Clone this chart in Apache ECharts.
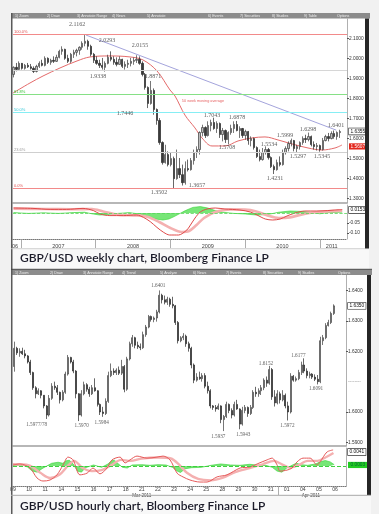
<!DOCTYPE html>
<html><head><meta charset="utf-8">
<script src="https://cdn.jsdelivr.net/npm/echarts@6/dist/echarts.min.js"></script>
<style>html,body{margin:0;padding:0;background:#f1f1f1;}#c{width:379px;height:514px;}</style>
</head><body><div id="c"></div>
<script>
// ================= WEEKLY CHART DATA =================
const weeklyStart = 2006.9;            // decimal year of first (bi-weekly) bar
const weeklyStepYears = 14 / 365.25;
// [open, close, low, high]
const weeklyOHLC = [
[1.920,1.955,1.905,1.960],[1.955,1.945,1.935,1.977],[1.945,1.975,1.940,1.985],[1.975,1.950,1.944,1.977],
[1.950,1.965,1.944,1.972],[1.965,1.958,1.952,1.977],[1.958,1.950,1.944,1.972],[1.950,1.935,1.927,1.960],
[1.935,1.960,1.930,1.968],[1.960,1.975,1.952,1.985],[1.975,1.965,1.960,1.993],[1.965,2.000,1.960,2.010],
[2.000,1.980,1.972,2.005],[1.980,1.990,1.968,1.998],[1.990,1.985,1.977,2.010],[1.985,2.005,1.982,2.018],
[2.005,2.035,2.000,2.043],[2.035,2.045,2.018,2.060],[2.045,2.000,1.993,2.048],[2.000,1.985,1.977,2.018],
[1.985,2.020,1.977,2.027],[2.020,2.030,2.002,2.043],[2.030,2.040,2.010,2.048],[2.040,2.055,2.018,2.060],
[2.055,2.075,2.043,2.085],[2.075,2.085,2.060,2.1162],[2.085,2.060,2.043,2.093],[2.060,2.020,2.010,2.068],
[2.020,1.990,1.977,2.027],[1.990,1.975,1.968,2.010],[1.975,1.965,1.952,1.993],[1.965,1.955,1.944,2.002],
[1.955,1.975,1.9338,1.985],[1.975,2.005,1.970,2.018],[2.005,1.995,1.985,2.035],[1.995,1.980,1.968,2.010],
[1.980,1.970,1.960,2.005],[1.970,1.995,1.968,2.010],[1.995,1.960,1.952,1.998],[1.960,1.970,1.944,1.985],
[1.970,1.975,1.952,1.993],[1.975,1.985,1.960,2.002],[1.985,1.990,1.968,2.005],[1.990,1.995,1.977,2.0155],
[1.995,1.975,1.968,2.010],[1.975,1.920,1.910,1.985],[1.920,1.855,1.844,1.927],[1.855,1.775,1.752,1.860],
[1.775,1.840,1.769,1.8871],[1.840,1.745,1.719,1.850],[1.745,1.690,1.669,1.750],[1.690,1.580,1.569,1.702],
[1.580,1.480,1.470,1.586],[1.480,1.520,1.475,1.569],[1.520,1.470,1.461,1.536],[1.470,1.500,1.461,1.528],
[1.500,1.400,1.3502,1.510],[1.400,1.450,1.395,1.545],[1.450,1.420,1.403,1.503],[1.420,1.380,1.3657,1.470],
[1.380,1.450,1.370,1.486],[1.450,1.445,1.436,1.495],[1.445,1.490,1.440,1.503],[1.490,1.530,1.470,1.545],
[1.530,1.545,1.503,1.561],[1.545,1.630,1.520,1.636],[1.630,1.655,1.611,1.669],[1.655,1.615,1.603,1.661],
[1.615,1.665,1.610,1.686],[1.665,1.680,1.636,1.694],[1.680,1.650,1.644,1.7043],[1.650,1.675,1.628,1.686],
[1.675,1.620,1.603,1.680],[1.620,1.640,1.586,1.653],[1.640,1.595,1.578,1.645],[1.595,1.630,1.5708,1.636],
[1.630,1.650,1.619,1.669],[1.650,1.670,1.628,1.686],[1.670,1.640,1.636,1.6878],[1.640,1.650,1.603,1.661],
[1.650,1.615,1.603,1.653],[1.615,1.635,1.594,1.644],[1.635,1.590,1.569,1.638],[1.590,1.600,1.561,1.611],
[1.600,1.555,1.545,1.605],[1.555,1.510,1.503,1.561],[1.510,1.495,1.486,1.545],[1.495,1.530,1.490,1.553],
[1.530,1.545,1.520,1.561],[1.545,1.505,1.495,1.553],[1.505,1.460,1.453,1.511],[1.460,1.445,1.4231,1.470],
[1.445,1.480,1.440,1.495],[1.480,1.470,1.461,1.511],[1.470,1.530,1.465,1.545],[1.530,1.550,1.520,1.561],
[1.550,1.575,1.536,1.586],[1.575,1.590,1.561,1.5999],[1.590,1.550,1.536,1.593],[1.550,1.560,1.5297,1.569],
[1.560,1.580,1.545,1.586],[1.580,1.600,1.569,1.611],[1.600,1.595,1.578,1.619],[1.595,1.610,1.586,1.6298],
[1.610,1.570,1.561,1.615],[1.570,1.560,1.545,1.586],[1.560,1.565,1.540,1.578],[1.565,1.545,1.5345,1.570],
[1.545,1.590,1.540,1.603],[1.590,1.610,1.586,1.619],[1.610,1.600,1.586,1.628],[1.600,1.625,1.596,1.636],
[1.625,1.610,1.599,1.6401],[1.610,1.630,1.594,1.636],[1.630,1.635,1.603,1.644]
];
const weeklyMA50 = [[2006.893,1.827],[2007.120,1.877],[2007.295,1.912],[2007.522,1.952],[2007.750,1.987],
[2007.924,2.007],[2008.191,2.012],[2008.459,2.007],[2008.633,1.992],[2008.821,1.937],[2008.995,1.842],
[2009.062,1.812],[2009.195,1.717],[2009.329,1.653],[2009.423,1.603],[2009.557,1.563],[2009.731,1.563],
[2009.905,1.588],[2010.092,1.603],[2010.266,1.608],[2010.440,1.593],[2010.628,1.573],[2010.842,1.553],
[2011.029,1.543],[2011.203,1.553],[2011.297,1.568]];
const weeklyTrend = [[2007.87,2.1162],[2011.22,1.642]];
const fibLevels = [2.1162,1.9354,1.8236,1.7332,1.6428,1.5310,1.3502];
const fibNames  = ['100.0%','','61.8%','50.0%','38.2%','23.6%','0.0%'];
const weeklyPriceTicks = [2.1,2.0,1.9,1.8,1.7,1.6,1.5,1.4,1.3];
const weeklyLastPrice = 1.6355;
const weeklyMATag = 1.5607;
const weeklyYearStarts = [2007,2008,2009,2010,2011];
const weeklyYearLabelPos = [2006.92,2007.5,2008.5,2009.5,2010.5,2011.16];
const weeklyYearLabels = ['06','2007','2008','2009','2010','2011'];
const weeklyNotes = [
[2007.75,2.171,'2.1162'],[2008.151,2.087,'2.0293'],[2008.593,2.062,'2.0155'],[2008.031,1.912,'1.9338'],
[2008.767,1.912,'1.8871'],[2008.392,1.727,'1.7446'],[2008.847,1.333,'1.3502'],[2009.356,1.368,'1.3657'],
[2009.557,1.717,'1.7043'],[2009.892,1.707,'1.6878'],[2009.758,1.558,'1.5708'],[2010.320,1.573,'1.5534'],
[2010.400,1.403,'1.4231'],[2010.534,1.618,'1.5999'],[2010.708,1.513,'1.5297'],[2010.842,1.648,'1.6298'],
[2011.029,1.513,'1.5345'],[2011.217,1.663,'1.6401']];
const weeklyMANote = [2009.436,1.787,'50 week moving average'];
const weeklyMACD = [[2006.90,0.025],[2007.16,0.023],[2007.39,0.018],[2007.61,0.018],[2007.83,0.023],[2007.97,0.012],
[2008.06,-0.005],[2008.19,-0.013],[2008.37,-0.013],[2008.55,-0.010],[2008.64,-0.022],[2008.73,-0.043],[2008.82,-0.072],
[2008.91,-0.097],[2008.99,-0.110],[2009.11,-0.110],[2009.22,-0.085],[2009.26,-0.065],[2009.33,-0.025],[2009.40,0.005],
[2009.49,0.020],[2009.60,0.025],[2009.73,0.020],[2009.93,0.015],[2010.07,0.005],[2010.16,-0.010],[2010.27,-0.030],
[2010.37,-0.035],[2010.47,-0.030],[2010.56,-0.015],[2010.67,0.000],[2010.80,0.010],[2010.96,0.010],[2011.10,0.012],
[2011.20,0.015],[2011.30,0.017]];
const weeklySignal = [[2006.90,0.022],[2007.30,0.020],[2007.70,0.019],[2007.95,0.020],[2008.10,0.008],[2008.30,-0.008],
[2008.55,-0.012],[2008.70,-0.020],[2008.85,-0.045],[2009.00,-0.075],[2009.15,-0.095],[2009.25,-0.090],[2009.35,-0.060],
[2009.45,-0.025],[2009.60,0.005],[2009.80,0.018],[2010.00,0.017],[2010.15,0.008],[2010.30,-0.012],[2010.45,-0.025],
[2010.60,-0.022],[2010.75,-0.008],[2010.95,0.004],[2011.30,0.012]];
const weeklyHist = [[2006.90,0.002],[2007.10,-0.002],[2007.30,0.001],[2007.50,-0.002],[2007.70,0.002],[2007.85,0.004],
[2007.95,-0.004],[2008.05,-0.010],[2008.15,-0.008],[2008.30,-0.002],[2008.45,0.002],[2008.60,-0.006],[2008.70,-0.018],
[2008.80,-0.030],[2008.90,-0.035],[2008.98,-0.030],[2009.05,-0.018],[2009.12,-0.004],[2009.20,0.012],[2009.30,0.028],
[2009.40,0.032],[2009.50,0.025],[2009.60,0.012],[2009.70,0.004],[2009.85,-0.002],[2010.00,-0.005],[2010.15,-0.010],
[2010.30,-0.008],[2010.45,0.004],[2010.60,0.010],[2010.75,0.008],[2010.90,0.003],[2011.00,-0.004],[2011.10,0.002],
[2011.20,0.006],[2011.30,0.004]];
const weeklyIndTicks = [-0.05,-0.10];
const weeklyIndTagWhite = 0.0153;
const weeklyIndTagGreen = -0.0049;

// ================= HOURLY CHART DATA =================
const hourlyStart = 0.5 + 1/12;   // in trading days from 9 Mar 2011 00:00
const hourlyStep = 1/6;          // 4-hour bars
const hourlyOHLC = [
[1.6150,1.6210,1.6133,1.6232],[1.6210,1.6195,1.6188,1.6215],[1.6195,1.6200,1.6182,1.6210],[1.6200,1.6192,1.6188,1.6212],
[1.6192,1.6185,1.6177,1.6205],[1.6185,1.6165,1.6160,1.6188],[1.6165,1.6130,1.6122,1.6172],[1.6130,1.6080,1.6073,1.6133],
[1.6080,1.6060,1.6045,1.6085],[1.6060,1.6070,1.6056,1.6078],[1.6070,1.6055,1.6045,1.6072],[1.6055,1.6020,1.6012,1.6056],
[1.6020,1.5990,1.5977,1.6023],[1.5990,1.6045,1.5985,1.6056],[1.6045,1.6085,1.6040,1.6095],[1.6085,1.6080,1.6073,1.6100],
[1.6080,1.6065,1.6056,1.6089],[1.6065,1.6040,1.6028,1.6067],[1.6040,1.6065,1.6035,1.6072],[1.6065,1.6125,1.6060,1.6133],
[1.6125,1.6180,1.6120,1.6188],[1.6180,1.6165,1.6160,1.6182],[1.6165,1.6135,1.6128,1.6172],[1.6135,1.6060,1.6045,1.6138],
[1.6060,1.5990,1.5970,1.6062],[1.5990,1.6060,1.5985,1.6072],[1.6060,1.6090,1.6055,1.6100],[1.6090,1.6075,1.6067,1.6095],
[1.6075,1.6060,1.6050,1.6083],[1.6060,1.6080,1.6056,1.6089],[1.6080,1.6070,1.6067,1.6111],[1.6070,1.6025,1.6018,1.6072],
[1.6025,1.6000,1.5990,1.6028],[1.6000,1.5995,1.5984,1.6017],[1.5995,1.6035,1.5990,1.6045],[1.6035,1.6120,1.6030,1.6133],
[1.6120,1.6135,1.6115,1.6160],[1.6135,1.6130,1.6122,1.6144],[1.6130,1.6138,1.6122,1.6144],[1.6138,1.6128,1.6122,1.6150],
[1.6128,1.6150,1.6122,1.6172],[1.6150,1.6075,1.6065,1.6155],[1.6075,1.6175,1.6070,1.6182],[1.6175,1.6225,1.6170,1.6232],
[1.6225,1.6245,1.6215,1.6254],[1.6245,1.6220,1.6210,1.6248],[1.6220,1.6215,1.6208,1.6232],[1.6215,1.6212,1.6204,1.6226],
[1.6212,1.6255,1.6208,1.6265],[1.6255,1.6280,1.6248,1.6287],[1.6280,1.6315,1.6276,1.6320],[1.6315,1.6305,1.6298,1.6318],
[1.6305,1.6310,1.6296,1.6315],[1.6310,1.6330,1.6298,1.6337],[1.6330,1.6385,1.6325,1.6401],[1.6385,1.6370,1.6358,1.6390],
[1.6370,1.6362,1.6355,1.6384],[1.6362,1.6372,1.6353,1.6380],[1.6372,1.6355,1.6347,1.6377],[1.6355,1.6350,1.6342,1.6380],
[1.6350,1.6295,1.6287,1.6353],[1.6295,1.6235,1.6226,1.6300],[1.6235,1.6245,1.6230,1.6250],[1.6245,1.6250,1.6237,1.6260],
[1.6250,1.6225,1.6215,1.6255],[1.6225,1.6210,1.6199,1.6232],[1.6210,1.6155,1.6144,1.6215],[1.6155,1.6105,1.6095,1.6160],
[1.6105,1.6115,1.6100,1.6128],[1.6115,1.6110,1.6106,1.6133],[1.6110,1.6120,1.6100,1.6128],[1.6120,1.6085,1.6078,1.6128],
[1.6085,1.6070,1.6061,1.6100],[1.6070,1.6020,1.6012,1.6075],[1.6020,1.6015,1.6007,1.6023],[1.6015,1.6010,1.6001,1.6023],
[1.6010,1.6020,1.6007,1.6028],[1.6020,1.5975,1.5963,1.6022],[1.5975,1.5985,1.5937,1.5990],[1.5985,1.6025,1.5980,1.6034],
[1.6025,1.6005,1.5996,1.6028],[1.6005,1.5990,1.5979,1.6012],[1.5990,1.6025,1.5985,1.6034],[1.6025,1.6010,1.6007,1.6040],
[1.6010,1.5960,1.5943,1.6012],[1.5960,1.6005,1.5955,1.6017],[1.6005,1.6015,1.5996,1.6023],[1.6015,1.5995,1.5984,1.6018],
[1.5995,1.6015,1.5990,1.6023],[1.6015,1.6065,1.6010,1.6072],[1.6065,1.6060,1.6050,1.6083],[1.6060,1.6070,1.6050,1.6078],
[1.6070,1.6080,1.6056,1.6089],[1.6080,1.6105,1.6072,1.6111],[1.6105,1.6095,1.6083,1.6117],[1.6095,1.6140,1.6090,1.6152],
[1.6140,1.6050,1.6040,1.6145],[1.6050,1.6030,1.6018,1.6072],[1.6030,1.6060,1.6025,1.6072],[1.6060,1.6040,1.6028,1.6067],
[1.6040,1.6055,1.6035,1.6072],[1.6055,1.6020,1.6012,1.6061],[1.6020,1.6000,1.5972,1.6034],[1.6000,1.6118,1.5995,1.6128],
[1.6118,1.6105,1.6100,1.6122],[1.6105,1.6110,1.6100,1.6117],[1.6110,1.6130,1.6105,1.6139],[1.6130,1.6155,1.6122,1.6166],
[1.6155,1.6135,1.6128,1.6177],[1.6135,1.6120,1.6111,1.6144],[1.6120,1.6125,1.6111,1.6133],[1.6125,1.6115,1.6109,1.6128],
[1.6115,1.6108,1.6102,1.6124],[1.6108,1.6100,1.6091,1.6122],[1.6100,1.6235,1.6095,1.6248],[1.6235,1.6245,1.6221,1.6254],
[1.6245,1.6285,1.6240,1.6293],[1.6285,1.6295,1.6282,1.6304],[1.6295,1.6325,1.6290,1.6331],[1.6325,1.6350,1.6320,1.6355]
];
const hourlyDays = ['09','10','11','14','15','16','17','18','21','22','23','24','25','28','29','30','31','01','04','05','06'];
const hourlyMonthStart = [17];
const hourlyMonthPos = [8.5,19.0];
const hourlyMonthLabels = ['Mar 2011','Apr 2011'];
const hourlyPriceTicks = [1.64,1.63,1.62,1.60,1.59];
const hourlyDashTick = 1.61;
const hourlyLastPrice = 1.635;
const hourlyNotes = [[9.525,1.6416,'1.6401'],[1.97,1.5957,'1.5977/78'],[4.77,1.5955,'1.5970'],[6.01,1.5966,'1.5984'],
[13.25,1.5918,'1.5937'],[14.8,1.5924,'1.5943'],[16.21,1.6160,'1.6152'],[17.54,1.5955,'1.5972'],[18.22,1.6186,'1.6177'],
[19.32,1.6076,'1.6091']];
const hourlyMACD = [[0.5,0.0003],[0.93,0.0006],[1.56,-0.0006],[1.99,-0.0035],[2.36,-0.0044],[2.80,-0.0041],[3.23,-0.0026],
[3.61,0.0003],[3.92,0.0026],[4.23,0.0018],[4.66,-0.0026],[5.10,-0.0021],[5.47,-0.0006],[5.90,-0.0023],[6.34,-0.0006],
[6.65,0.0018],[7.15,0.0026],[7.46,0.0009],[7.77,0.0018],[8.20,0.0029],[8.82,0.0023],[9.44,0.0026],[9.82,0.0029],
[10.25,0.0018],[10.69,-0.0021],[11.06,-0.0032],[11.49,-0.0041],[12.11,-0.0047],[12.55,-0.0047],[13.17,-0.0032],
[13.79,-0.0026],[14.60,-0.0006],[15.22,-0.0003],[15.66,0.0006],[16.28,0.0018],[16.59,0.0023],[16.90,0.0003],
[17.08,-0.0015],[17.52,-0.0012],[17.83,-0.0006],[18.14,0.0012],[18.51,0.0023],[18.95,0.0023],[19.38,0.0003],
[19.57,0.0012],[20.00,0.0041],[20.38,0.0047]];
const hourlySignal = [[0.5,0.0005],[1.5,0.0002],[2.2,-0.0020],[2.8,-0.0035],[3.4,-0.0025],[3.9,0.0000],[4.3,0.0015],
[4.8,-0.0005],[5.4,-0.0015],[6.0,-0.0012],[6.6,0.0002],[7.2,0.0018],[7.8,0.0015],[8.5,0.0022],[9.5,0.0025],[10.3,0.0022],
[10.8,0.0005],[11.3,-0.0020],[12.0,-0.0038],[12.8,-0.0042],[13.5,-0.0035],[14.3,-0.0018],[15.2,-0.0006],[16.0,0.0005],
[16.7,0.0015],[17.2,0.0005],[17.7,-0.0005],[18.2,0.0002],[18.8,0.0015],[19.4,0.0015],[19.9,0.0025],[20.4,0.0038]];
const hourlyHist = [[0.5,0.0005],[1.0,0.0004],[1.4,-0.0003],[1.7,-0.0015],[2.0,-0.0018],[2.3,-0.0008],[2.6,0],[2.9,0.0008],
[3.3,0.0011],[3.6,0.0008],[3.8,0.0015],[4.0,0.0017],[4.25,0.0005],[4.5,-0.0015],[4.75,-0.0018],[5.0,-0.0005],[5.5,0.0003],
[6.0,-0.0004],[6.4,0.0006],[6.6,0.0015],[6.8,0.0017],[7.0,0.0008],[7.3,-0.0004],[7.6,-0.0006],[7.9,0.0003],[8.5,0.0004],
[9.0,0.0002],[9.5,0.0004],[10.0,0.0003],[10.4,-0.0004],[10.7,-0.0015],[10.9,-0.0019],[11.2,-0.0008],[11.6,-0.0005],
[12.2,-0.0004],[12.8,0.0002],[13.4,0.0006],[14.0,0.0003],[14.6,0.0002],[15.2,0.0005],[15.6,0.0003],[16.2,0.0002],
[16.6,-0.0004],[16.9,-0.0015],[17.2,-0.0018],[17.5,-0.0006],[17.9,0.0004],[18.1,0.0008],[18.4,0.0004],[18.8,0.0002],
[19.3,0.0006],[19.6,0.0013],[19.9,0.0016],[20.2,0.0012],[20.45,0.0004]];
const hourlyIndTagWhite = 0.0041;
const hourlyIndTagGreen = 0.0003;

// ================= BUILD =================
const weeklyData = weeklyOHLC.map((d, i) => [weeklyStart + i * weeklyStepYears, d[0], d[1], d[2], d[3]]);
const hourlyData = hourlyOHLC.map((d, i) => [hourlyStart + i * hourlyStep, d[0], d[1], d[2], d[3]]);
const hourlyDayPos = hourlyDays.map((d, i) => i + 0.5);

const AX_FONT = 'Liberation Sans';
const rich = {
  n: {fontSize: 4.8, color: '#333', fontFamily: AX_FONT},
  g: {fontSize: 4.8, color: '#999', fontFamily: AX_FONT},
  box: {fontSize: 4.8, color: '#111', fontFamily: AX_FONT, backgroundColor: '#fff', borderColor: '#222', borderWidth: 0.6, padding: [0.6, 1.5]},
  red: {fontSize: 4.8, color: '#fff', fontFamily: AX_FONT, backgroundColor: '#e3261c', padding: [0.6, 1.5]},
  grn: {fontSize: 4.8, color: '#063', fontFamily: AX_FONT, backgroundColor: '#22cc22', padding: [0.6, 2.5]}
};
function near(a, b) { return Math.abs(a - b) < 1e-7; }
function lookup(pos, labels) { return v => { for (let i = 0; i < pos.length; i++) if (near(v, pos[i])) return labels[i]; return ''; }; }

const W = {min: 2006.893, max: 2011.364};
const H = {min: 0.5, max: 21.18};
const none = {show: false};
function baseX(grid, r, extra) {
  return Object.assign({gridIndex: grid, type: 'value', position: 'bottom', min: r.min, max: r.max,
    axisLine: {show: true, onZero: false, lineStyle: {color: '#a0a0a0', width: 1.5}},
    axisTick: none, axisLabel: none, splitLine: none}, extra || {});
}
function baseY(grid, min, max, extra) {
  return Object.assign({gridIndex: grid, type: 'value', position: 'right', min: min, max: max,
    axisLine: {show: true, onZero: false, lineStyle: {color: '#b0b0b0', width: 1}},
    splitLine: none}, extra);
}

const option = {
  animation: false,
  backgroundColor: '#f1f1f1',
  title: [
    {text: 'GBP/USD weekly chart, Bloomberg Finance LP', left: 20, top: 252, padding: 0,
     textStyle: {fontFamily: 'Lato', fontSize: 12, fontWeight: 600, color: '#1b1b29'}},
    {text: 'GBP/USD hourly chart, Bloomberg Finance LP', left: 20, top: 500, padding: 0,
     textStyle: {fontFamily: 'Lato', fontSize: 12, fontWeight: 600, color: '#1b1b29'}}
  ],
  grid: [
    {left: 13, top: 19, width: 334, height: 184, outerBoundsMode: 'none'},
    {left: 13, top: 205, width: 334, height: 34, outerBoundsMode: 'none'},
    {left: 13, top: 275, width: 333, height: 171, outerBoundsMode: 'none'},
    {left: 13, top: 448, width: 333, height: 38, outerBoundsMode: 'none'}
  ],
  xAxis: [
    baseX(0, W),
    baseX(1, W, {
      axisLine: {show: true, onZero: false, lineStyle: {color: '#777', type: 'dotted', width: 1}},
      axisTick: {show: true, customValues: weeklyYearStarts, length: 9, lineStyle: {color: '#999', width: 0.8}},
      axisLabel: {show: true, customValues: weeklyYearLabelPos, formatter: lookup(weeklyYearLabelPos, weeklyYearLabels),
        fontSize: 5.5, color: '#444', margin: 4, fontFamily: AX_FONT}
    }),
    baseX(2, H),
    baseX(3, H, {
      axisLine: {show: true, onZero: false, lineStyle: {color: '#777', type: 'dotted', width: 1}},
      axisTick: {show: true, customValues: hourlyMonthStart, length: 9, lineStyle: {color: '#999', width: 0.8}},
      axisLabel: {show: true, customValues: hourlyDayPos, formatter: lookup(hourlyDayPos, hourlyDays),
        fontSize: 5.2, color: '#444', margin: 1.5, fontFamily: AX_FONT}
    }),
    baseX(3, H, {
      position: 'bottom', offset: 5.5, axisLine: {show: false, onZero: false},
      axisLabel: {show: true, customValues: hourlyMonthPos, formatter: lookup(hourlyMonthPos, hourlyMonthLabels),
        fontSize: 4.6, color: '#444', margin: 1.5, fontFamily: AX_FONT}
    })
  ],
  yAxis: [
    baseY(0, 1.27855, 2.19626, {
      axisTick: {show: true, customValues: weeklyPriceTicks, length: 2, lineStyle: {color: '#555'}},
      axisLabel: {show: true, margin: 2, rich: rich,
        customValues: weeklyPriceTicks.concat([weeklyLastPrice, weeklyMATag]),
        formatter: v => near(v, weeklyLastPrice) ? '{box|' + v.toFixed(4) + '}' :
                        near(v, weeklyMATag) ? '{red|' + v.toFixed(4) + '}' : '{n|' + v.toFixed(4) + '}'}
    }),
    baseY(1, -0.13, 0.04, {
      axisTick: {show: true, customValues: weeklyIndTicks, length: 2, lineStyle: {color: '#555'}},
      axisLabel: {show: true, margin: 2, rich: rich,
        customValues: weeklyIndTicks.concat([weeklyIndTagWhite, weeklyIndTagGreen]),
        formatter: v => near(v, weeklyIndTagWhite) ? '{box|' + v.toFixed(4) + '}' :
                        near(v, weeklyIndTagGreen) ? '{grn|' + v.toFixed(4) + '}' : '{n|' + v.toFixed(2) + '}'}
    }),
    baseY(2, 1.58878, 1.64518, {
      axisTick: {show: true, customValues: hourlyPriceTicks, length: 2, lineStyle: {color: '#555'}},
      axisLabel: {show: true, margin: 2, rich: rich,
        customValues: hourlyPriceTicks.concat([hourlyDashTick, hourlyLastPrice]),
        formatter: v => near(v, hourlyLastPrice) ? '{box|' + v.toFixed(4) + '}' :
                        near(v, hourlyDashTick) ? '{g|--------}' : '{n|' + v.toFixed(4) + '}'}
    }),
    baseY(3, -0.00586, 0.00527, {
      axisTick: none,
      axisLabel: {show: true, margin: 2, rich: rich,
        customValues: [hourlyIndTagWhite, hourlyIndTagGreen],
        formatter: v => near(v, hourlyIndTagWhite) ? '{box|' + v.toFixed(4) + '}' : '{grn|' + v.toFixed(4) + '}'}
    })
  ],
  series: [
    // ---- weekly main ----
    {type: 'line', name: 'trend', xAxisIndex: 0, yAxisIndex: 0, data: weeklyTrend, symbol: 'none', silent: true,
     lineStyle: {color: '#a4a4dc', width: 1}, z: 3},
    {type: 'line', name: 'MA50', xAxisIndex: 0, yAxisIndex: 0, data: weeklyMA50, symbol: 'none', smooth: 0.35, silent: true,
     lineStyle: {color: '#e46a6a', width: 1}, z: 3,
     markLine: {silent: true, symbol: ['none', 'none'], animation: false,
       data: fibLevels.map((lv, i) => {
         const cols = ['#f28a8a', '#d6d6d6', '#86e086', '#86eef4', '#86e086', '#cfcfcf', '#f28a8a'];
         const tcols = ['#e05050', '#999', '#2fbf2f', '#33c8d8', '#2fbf2f', '#999', '#e05050'];
         return {yAxis: lv, lineStyle: {color: cols[i], width: 1, type: 'solid', opacity: i === 4 ? 0 : 1},
                 label: {show: fibNames[i] !== '', formatter: fibNames[i] || ' ', position: 'insideStartTop', distance: [1, 0.5],
                         fontSize: 4, color: tcols[i], fontFamily: AX_FONT}};
       })}},
    {type: 'candlestick', name: 'weekly', xAxisIndex: 0, yAxisIndex: 0, data: weeklyData, barWidth: 1.8, silent: true, z: 4,
     itemStyle: {color: '#bdbdbd', color0: '#3a3a3a', borderColor: '#3c3c3c', borderColor0: '#262626', borderWidth: 0.7}},
    {type: 'scatter', xAxisIndex: 0, yAxisIndex: 0, silent: true, symbolSize: 1, itemStyle: {color: 'rgba(0,0,0,0)'}, z: 6,
     label: {show: true, position: 'inside', formatter: '{b}', fontSize: 6, color: '#333', fontFamily: 'Liberation Serif'},
     data: weeklyNotes.map(n => ({name: n[2], value: [n[0], n[1]]})).concat([
       {name: weeklyMANote[2], value: [weeklyMANote[0], weeklyMANote[1]],
        label: {fontSize: 3.8, color: '#e03a3a', fontFamily: AX_FONT}}])},
    // ---- weekly indicator ----
    {type: 'line', xAxisIndex: 1, yAxisIndex: 1, data: weeklyHist, symbol: 'none', silent: true,
     lineStyle: {color: '#33d433', width: 0.6}, areaStyle: {color: '#3ddc3d', origin: 0}, z: 2,
     markLine: {silent: true, symbol: ['none', 'none'], label: {show: false},
       data: [{yAxis: 0, lineStyle: {color: '#5ad35a', width: 0.8, type: 'dashed'}}]}},
    {type: 'line', xAxisIndex: 1, yAxisIndex: 1, data: weeklySignal, symbol: 'none', smooth: 0.3, silent: true,
     lineStyle: {color: '#f4b0b0', width: 2.6}, z: 3},
    {type: 'line', xAxisIndex: 1, yAxisIndex: 1, data: weeklyMACD, symbol: 'none', smooth: 0.3, silent: true,
     lineStyle: {color: '#e04848', width: 1}, z: 4},
    // ---- hourly main ----
    {type: 'candlestick', name: 'hourly', xAxisIndex: 2, yAxisIndex: 2, data: hourlyData, barWidth: 1.5, silent: true, z: 4,
     itemStyle: {color: '#bdbdbd', color0: '#3a3a3a', borderColor: '#3c3c3c', borderColor0: '#262626', borderWidth: 0.7}},
    {type: 'scatter', xAxisIndex: 2, yAxisIndex: 2, silent: true, symbolSize: 1, itemStyle: {color: 'rgba(0,0,0,0)'}, z: 6,
     label: {show: true, position: 'inside', formatter: '{b}', fontSize: 5.2, color: '#333', fontFamily: 'Liberation Serif'},
     data: hourlyNotes.map(n => ({name: n[2], value: [n[0], n[1]]}))},
    // ---- hourly indicator ----
    {type: 'line', xAxisIndex: 3, yAxisIndex: 3, data: hourlyHist, symbol: 'none', silent: true,
     lineStyle: {color: '#33d433', width: 0.6}, areaStyle: {color: '#3ddc3d', origin: 0}, z: 2,
     markLine: {silent: true, symbol: ['none', 'none'], label: {show: false},
       data: [{yAxis: 0, lineStyle: {color: '#3fcf3f', width: 1, type: 'dashed'}}]}},
    {type: 'line', xAxisIndex: 3, yAxisIndex: 3, data: hourlySignal, symbol: 'none', smooth: 0.3, silent: true,
     lineStyle: {color: '#f4b0b0', width: 2.4}, z: 3},
    {type: 'line', xAxisIndex: 3, yAxisIndex: 3, data: hourlyMACD, symbol: 'none', smooth: 0.3, silent: true,
     lineStyle: {color: '#e65a5a', width: 1}, z: 4}
  ],
  graphic: [
    {type: 'rect', shape: {x: 11, y: 13, width: 358, height: 256}, style: {fill: '#ffffff'}, z: -20, silent: true},
    {type: 'rect', shape: {x: 11, y: 249, width: 358, height: 20}, style: {fill: '#f8f8f8'}, z: -19, silent: true},
    {type: 'rect', shape: {x: 11, y: 269, width: 360, height: 245}, style: {fill: '#ffffff'}, z: -20, silent: true},
    {type: 'rect', shape: {x: 11, y: 495, width: 360, height: 19}, style: {fill: '#f8f8f8'}, z: -19, silent: true},
    {type: 'rect', shape: {x: 11, y: 13, width: 359, height: 5.5}, style: {fill: '#8c8c8c'}, z: 50, silent: true},
    {type: 'rect', shape: {x: 11, y: 269.5, width: 361, height: 5.5}, style: {fill: '#8c8c8c'}, z: 50, silent: true},
    {type: 'rect', shape: {x: 365, y: 18.5, width: 4, height: 230.5}, style: {fill: '#262626'}, z: 50, silent: true},
    {type: 'rect', shape: {x: 367, y: 275, width: 4, height: 220}, style: {fill: '#262626'}, z: 50, silent: true},
    {type: 'line', shape: {x1: 11.75, y1: 13, x2: 11.75, y2: 514}, style: {stroke: '#5a5a5a', lineWidth: 1.5}, z: 50, silent: true},
    {type: 'line', shape: {x1: 11, y1: 248.7, x2: 369, y2: 248.7}, style: {stroke: '#c4c4c4', lineWidth: 0.8}, z: 50, silent: true},
    {type: 'line', shape: {x1: 11, y1: 269.3, x2: 372, y2: 269.3}, style: {stroke: '#444', lineWidth: 1}, z: 50, silent: true},
    {type: 'line', shape: {x1: 11, y1: 495.3, x2: 371, y2: 495.3}, style: {stroke: '#a8a8a8', lineWidth: 1}, z: 50, silent: true},
    {type: 'text', x: 15, y: 14.2, style: {text: '1) Zoom', fontSize: 3.6, fill: '#eeeeee', fontFamily: AX_FONT}, z: 51, silent: true},
    {type: 'text', x: 47, y: 14.2, style: {text: '2) Draw', fontSize: 3.6, fill: '#eeeeee', fontFamily: AX_FONT}, z: 51, silent: true},
    {type: 'text', x: 77, y: 14.2, style: {text: '3) Annotate Range', fontSize: 3.6, fill: '#eeeeee', fontFamily: AX_FONT}, z: 51, silent: true},
    {type: 'text', x: 112, y: 14.2, style: {text: '4) News', fontSize: 3.6, fill: '#eeeeee', fontFamily: AX_FONT}, z: 51, silent: true},
    {type: 'text', x: 147, y: 14.2, style: {text: '5) Annotate', fontSize: 3.6, fill: '#eeeeee', fontFamily: AX_FONT}, z: 51, silent: true},
    {type: 'text', x: 208, y: 14.2, style: {text: '6) Events', fontSize: 3.6, fill: '#eeeeee', fontFamily: AX_FONT}, z: 51, silent: true},
    {type: 'text', x: 240, y: 14.2, style: {text: '7) Securities', fontSize: 3.6, fill: '#eeeeee', fontFamily: AX_FONT}, z: 51, silent: true},
    {type: 'text', x: 272, y: 14.2, style: {text: '8) Studies', fontSize: 3.6, fill: '#eeeeee', fontFamily: AX_FONT}, z: 51, silent: true},
    {type: 'text', x: 304, y: 14.2, style: {text: '9) Table', fontSize: 3.6, fill: '#eeeeee', fontFamily: AX_FONT}, z: 51, silent: true},
    {type: 'text', x: 337, y: 14.2, style: {text: 'Options', fontSize: 3.6, fill: '#eeeeee', fontFamily: AX_FONT}, z: 51, silent: true},
    {type: 'text', x: 15, y: 270.7, style: {text: '1) Zoom', fontSize: 3.6, fill: '#eeeeee', fontFamily: AX_FONT}, z: 51, silent: true},
    {type: 'text', x: 50, y: 270.7, style: {text: '2) Draw', fontSize: 3.6, fill: '#eeeeee', fontFamily: AX_FONT}, z: 51, silent: true},
    {type: 'text', x: 83, y: 270.7, style: {text: '3) Annotate Range', fontSize: 3.6, fill: '#eeeeee', fontFamily: AX_FONT}, z: 51, silent: true},
    {type: 'text', x: 122, y: 270.7, style: {text: '4) Trend', fontSize: 3.6, fill: '#eeeeee', fontFamily: AX_FONT}, z: 51, silent: true},
    {type: 'text', x: 160, y: 270.7, style: {text: '5) Analyze', fontSize: 3.6, fill: '#eeeeee', fontFamily: AX_FONT}, z: 51, silent: true},
    {type: 'text', x: 193, y: 270.7, style: {text: '6) News', fontSize: 3.6, fill: '#eeeeee', fontFamily: AX_FONT}, z: 51, silent: true},
    {type: 'text', x: 226, y: 270.7, style: {text: '7) Events', fontSize: 3.6, fill: '#eeeeee', fontFamily: AX_FONT}, z: 51, silent: true},
    {type: 'text', x: 263, y: 270.7, style: {text: '8) Securities', fontSize: 3.6, fill: '#eeeeee', fontFamily: AX_FONT}, z: 51, silent: true},
    {type: 'text', x: 298, y: 270.7, style: {text: '9) Studies', fontSize: 3.6, fill: '#eeeeee', fontFamily: AX_FONT}, z: 51, silent: true},
    {type: 'text', x: 338, y: 270.7, style: {text: 'Options', fontSize: 3.6, fill: '#eeeeee', fontFamily: AX_FONT}, z: 51, silent: true}
  ]
};
const chart = echarts.init(document.getElementById('c'), null, {renderer: 'canvas', width: 379, height: 514});
chart.setOption(option);
</script></body></html>
